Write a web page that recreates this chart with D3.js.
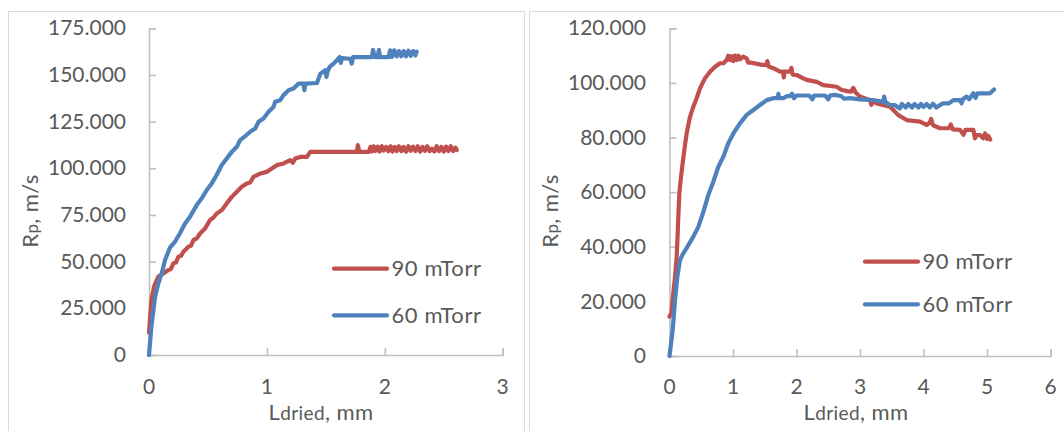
<!DOCTYPE html>
<html>
<head>
<meta charset="utf-8">
<script src="https://cdn.jsdelivr.net/npm/d3@7"></script>
<style>
  html, body { margin: 0; padding: 0; background: #fff; }
  svg { display: block; }
  text { font-family: Lato, "Open Sans", sans-serif; fill: #595959; }
</style>
</head>
<body>
<svg id="chart" width="1064" height="431"></svg>
<script>
// Series names and colours
const seriesNames = ["90 mTorr", "60 mTorr"];
const seriesColors = ["#C0504D", "#4F81BD"];

// Left panel: [Ldried (mm), Rp (m/s)]
const left90 = [
  [0,12],[0.02,29.4],[0.0425,36.6],[0.079,42],[0.122,43.7],[0.164,45.5],[0.185,46],[0.207,49.1],
  [0.228,49.5],[0.249,52.6],[0.27,53],[0.292,55.3],[0.334,58],[0.355,58.5],[0.377,61.5],[0.405,62.5],
  [0.433,65.1],[0.476,67.8],[0.518,72.3],[0.545,73.5],[0.575,75.8],[0.617,77.6],[0.659,81.2],
  [0.702,84.7],[0.745,87.4],[0.787,90.1],[0.829,91.9],[0.86,92.5],[0.886,95.4],[0.943,97.2],
  [1.0,98.1],[1.042,99.9],[1.084,101.7],[1.141,102.6],[1.198,104.4],[1.22,103],[1.24,105.2],
  [1.283,106.1],[1.34,106.1],[1.368,108.8],[1.764,108.8],[1.771,112.4],[1.785,108.8],[1.864,108.8],
  [1.878,111.5],[1.89,109],[1.905,111.8],[1.92,109.2],[1.94,111.6],[1.955,109],[1.975,111.8],
  [1.99,109.5],[2.01,111.5],[2.03,109.2],[2.05,111.8],[2.065,109],[2.085,111.5],[2.10,109.3],
  [2.12,111.8],[2.14,109.2],[2.16,111.5],[2.18,109],[2.20,111.8],[2.22,109.4],[2.24,111.6],
  [2.26,109.2],[2.28,111.8],[2.30,109],[2.32,111.5],[2.34,109.3],[2.36,111.8],[2.38,109.2],
  [2.40,110.5],[2.42,109],[2.44,111.8],[2.46,109.2],[2.48,111.5],[2.50,109],[2.52,111.6],
  [2.54,109.3],[2.56,111.8],[2.58,109.2],[2.60,111],[2.61,109.8]
];
const left60 = [
  [0,0],[0.02,15],[0.051,31],[0.079,38.3],[0.108,43.7],[0.136,50.9],[0.178,57.5],[0.221,60.7],
  [0.263,65.2],[0.306,70.5],[0.348,74.1],[0.405,80.3],[0.447,83.9],[0.49,88.4],[0.532,91.9],
  [0.574,96.4],[0.617,101.8],[0.659,105.2],[0.702,108.8],[0.745,111.5],[0.773,115.1],[0.816,117.2],
  [0.858,119.6],[0.901,121.3],[0.929,124.9],[0.971,126.7],[1.014,130.3],[1.056,132.9],[1.07,135.6],
  [1.113,136.5],[1.141,139.2],[1.184,141.8],[1.226,142.7],[1.269,145.4],[1.31,145.4],[1.318,141.8],
  [1.326,145.4],[1.425,145.7],[1.453,150.7],[1.495,152.5],[1.505,149],[1.515,152],[1.532,154.3],
  [1.566,156.1],[1.617,159.6],[1.627,156.5],[1.637,159],[1.707,158.7],[1.72,156.1],[1.73,159.6],
  [1.892,159.6],[1.9,163.5],[1.915,159.6],[1.94,159.6],[1.95,163.5],[1.96,159.6],[2.033,159.6],
  [2.045,163.2],[2.06,159.6],[2.08,163.2],[2.10,160],[2.12,162.8],[2.14,160],[2.16,162.8],
  [2.18,160],[2.20,163],[2.22,160.2],[2.24,162.8],[2.26,160.5],[2.27,162.5]
];

// Right panel: [Ldried (mm), Rp (m/s)]
const right90 = [
  [0,14.4],[0.03,15.8],[0.06,23],[0.087,29],[0.113,36.4],[0.129,44.9],[0.139,51],[0.155,59.6],
  [0.176,64.4],[0.207,70.6],[0.24,76.5],[0.27,81.5],[0.323,87.6],[0.375,91.3],[0.428,94.4],
  [0.48,98],[0.559,101.7],[0.638,104.1],[0.717,105.9],[0.795,107.2],[0.85,107.2],[0.9,108.4],
  [0.925,110],[0.953,108.4],[0.98,109.8],[1.005,108],[1.03,110],[1.058,108.4],[1.085,110],
  [1.11,108.6],[1.16,109.6],[1.215,109],[1.24,107.4],[1.294,107.4],[1.399,106.9],[1.45,106.6],
  [1.53,106.6],[1.54,108],[1.56,106],[1.635,105.4],[1.74,104.1],[1.79,104.1],[1.80,102],
  [1.81,104.1],[1.90,104.1],[1.92,105.5],[1.94,103],[2.003,102.9],[2.107,101.7],[2.16,101.1],
  [2.318,100.4],[2.422,99.2],[2.633,98.6],[2.712,97.4],[2.80,97],[2.86,96.8],[2.895,98.2],
  [2.93,96.5],[3.0,95],[3.157,93.7],[3.18,92],[3.2,93.5],[3.263,92.5],[3.472,91.3],[3.524,90.1],
  [3.603,88.2],[3.735,86.4],[3.945,85.8],[4.05,84.6],[4.1,85.5],[4.12,86.8],[4.15,84.5],
  [4.26,83.4],[4.4,83.4],[4.43,84.8],[4.46,83],[4.575,82.8],[4.63,81],[4.66,82.8],[4.785,82.8],
  [4.81,79.7],[4.837,80.9],[4.89,80.9],[4.94,79.7],[4.97,81.5],[5.0,79.5],[5.02,80.6],[5.05,79.3]
];
const right60 = [
  [0,0],[0.05,9.5],[0.087,20.5],[0.123,29],[0.165,35.2],[0.218,37.6],[0.297,40.6],[0.375,43.7],
  [0.454,47.3],[0.533,52.8],[0.612,59],[0.69,63.8],[0.769,69.3],[0.848,73],[0.926,77.9],
  [1.005,81.5],[1.11,85.2],[1.216,88.3],[1.32,90.1],[1.425,91.9],[1.531,93.7],[1.635,94.4],
  [1.7,94.4],[1.714,96],[1.73,94.4],[1.793,94.4],[1.85,95.2],[1.898,95.2],[1.93,96],[1.96,94.4],
  [2.0,95.4],[2.2,95.4],[2.25,94],[2.28,95.4],[2.45,95.4],[2.5,94],[2.53,95.4],[2.6,95.6],
  [2.7,95.2],[2.75,94.2],[2.843,94.4],[3.0,94],[3.21,93.7],[3.367,93.1],[3.38,95],[3.4,93],
  [3.472,91.9],[3.55,91.9],[3.6,91],[3.63,90.7],[3.66,92.3],[3.72,91],[3.76,92.3],[3.82,91],
  [3.86,92.3],[3.92,91],[3.96,92.3],[4.0,91.2],[4.05,92.3],[4.1,91],[4.15,92.4],[4.2,91],
  [4.3,92.5],[4.4,92.5],[4.47,93.7],[4.575,93.7],[4.6,92.5],[4.62,94],[4.68,95],[4.72,94],
  [4.785,96.2],[4.82,94.5],[4.85,96.2],[5.047,96.2],[5.11,97.6]
];

// Axis ticks
const leftXTicks = [0, 1, 2, 3];
const leftYTicks = [0, 25, 50, 75, 100, 125, 150, 175];
const rightXTicks = [0, 1, 2, 3, 4, 5, 6];
const rightYTicks = [0, 20, 40, 60, 80, 100, 120];

const svg = d3.select("#chart");
const fmtY = v => v === 0 ? "0" : d3.format(".3f")(v);

// Panel frames
svg.append("rect").attr("x", 8.5).attr("y", 11.5).attr("width", 516).attr("height", 440)
  .attr("fill", "none").attr("stroke", "#D9D9D9").attr("stroke-width", 1);
svg.append("rect").attr("x", 529.5).attr("y", 11.5).attr("width", 560).attr("height", 440)
  .attr("fill", "none").attr("stroke", "#D9D9D9").attr("stroke-width", 1);

function drawPanel(cfg) {
  const g = svg.append("g");
  const x = d3.scaleLinear().domain(cfg.xDomain).range([cfg.x0, cfg.x1]);
  const y = d3.scaleLinear().domain(cfg.yDomain).range([cfg.y0, cfg.y1]);

  // Axes with inward-pointing tick marks; labels are drawn separately
  const yAxis = g.append("g").attr("transform", `translate(${cfg.x0},0)`)
    .call(d3.axisRight(y).tickValues(cfg.yTicks).tickSize(7).tickFormat(""));
  const xAxis = g.append("g").attr("transform", `translate(0,${cfg.y0})`)
    .call(d3.axisTop(x).tickValues(cfg.xTicks).tickSize(7).tickFormat(""));
  [yAxis, xAxis].forEach(a => {
    a.select(".domain").attr("stroke", "#BFBFBF").attr("stroke-width", 1.6);
    a.selectAll(".tick line").attr("stroke", "#BFBFBF").attr("stroke-width", 1.6);
  });

  g.append("g").selectAll("text").data(cfg.yTicks).join("text")
    .attr("x", cfg.yLabelRight).attr("y", d => y(d)).attr("dy", "0.34em")
    .attr("text-anchor", "end").attr("font-size", 21).text(fmtY);
  g.append("g").selectAll("text").data(cfg.xTicks).join("text")
    .attr("x", d => x(d)).attr("y", 394)
    .attr("text-anchor", "middle").attr("font-size", 21).text(d => d);

  // Axis titles
  const yt = g.append("text").attr("transform", `translate(${cfg.yTitleX},${cfg.yTitleY}) rotate(-90)`)
    .attr("text-anchor", "middle").attr("font-size", 22).attr("letter-spacing", 0.4);
  yt.append("tspan").text("R");
  yt.append("tspan").attr("font-size", 17).text("p");
  yt.append("tspan").text(", m/s");
  const xt = g.append("text").attr("x", cfg.xTitleX).attr("y", 420)
    .attr("text-anchor", "middle").attr("font-size", 22).attr("letter-spacing", 0.4);
  xt.append("tspan").text("L");
  xt.append("tspan").attr("font-size", 19).text("dried");
  xt.append("tspan").text(", mm");

  // Series lines
  const line = d3.line().x(d => x(d[0])).y(d => y(d[1]));
  cfg.series.forEach((s, i) => {
    g.append("path").datum(s).attr("d", line).attr("fill", "none")
      .attr("stroke", seriesColors[i]).attr("stroke-width", 4.2)
      .attr("stroke-linejoin", "round").attr("stroke-linecap", "round");
  });

  // Legend
  seriesNames.forEach((name, i) => {
    const ly = cfg.legendY[i];
    g.append("line").attr("x1", cfg.legendX).attr("x2", cfg.legendX + 53)
      .attr("y1", ly).attr("y2", ly).attr("stroke", seriesColors[i]).attr("stroke-width", 4.2)
      .attr("stroke-linecap", "round");
    g.append("text").attr("x", cfg.legendX + 57.5).attr("y", ly).attr("dy", "0.35em")
      .attr("font-size", 22).attr("letter-spacing", 0.6).text(name);
  });
}

drawPanel({
  xDomain: [0, 3], yDomain: [0, 175], x0: 149, x1: 502.7, y0: 355, y1: 28.3,
  xTicks: leftXTicks, yTicks: leftYTicks, yLabelRight: 126,
  yTitleX: 38, yTitleY: 211, xTitleX: 321,
  series: [left90, left60], legendX: 334, legendY: [268.7, 315.3]
});
drawPanel({
  xDomain: [0, 6], yDomain: [0, 120], x0: 669.5, x1: 1050.5, y0: 356, y1: 28.3,
  xTicks: rightXTicks, yTicks: rightYTicks, yLabelRight: 646,
  yTitleX: 558, yTitleY: 211, xTitleX: 856,
  series: [right90, right60], legendX: 865, legendY: [261.7, 304.3]
});
</script>
</body>
</html>
